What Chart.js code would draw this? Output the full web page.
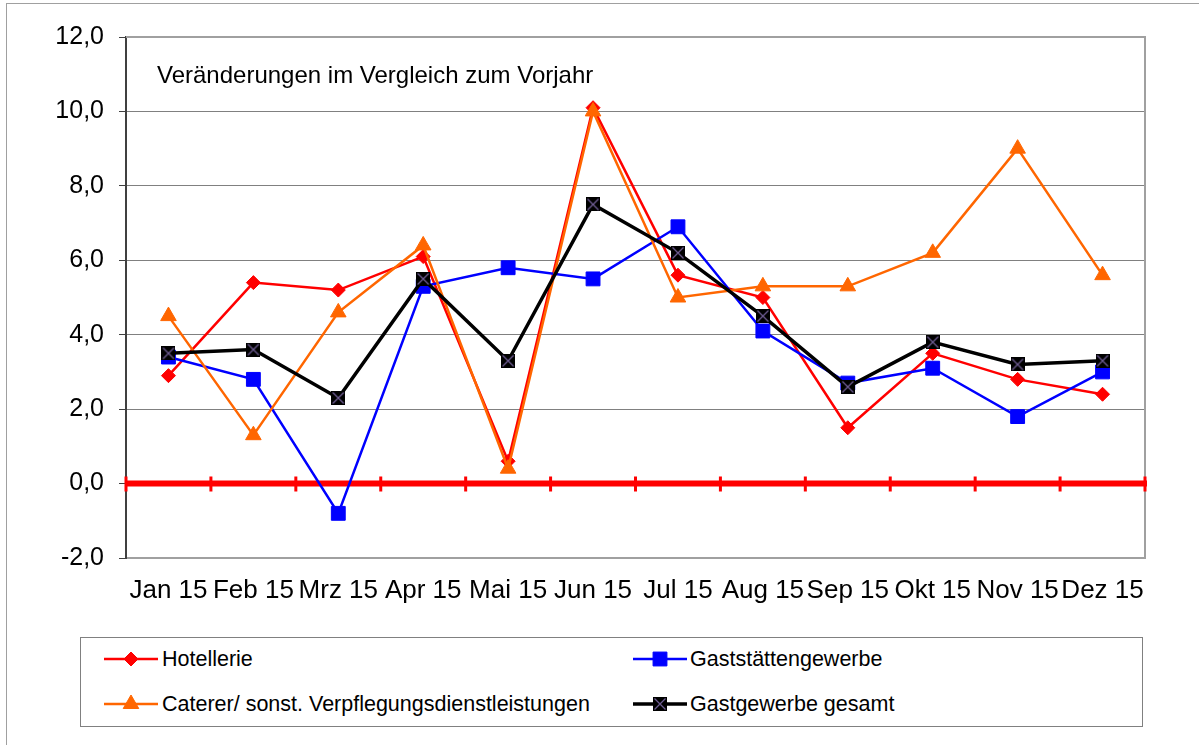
<!DOCTYPE html>
<html lang="de">
<head>
<meta charset="UTF-8">
<title>Gastgewerbe 2015</title>
<script src="https://cdn.jsdelivr.net/npm/chart.js@4.4.1/dist/chart.umd.min.js"></script>
<style>
  body { margin: 0; width: 1199px; height: 745px; overflow: hidden; background: #fff;
         font-family: "Liberation Sans", Arial, sans-serif; }
  #frame { position: absolute; left: 6px; top: 3px; width: 1220px; height: 770px; border: 1px solid #a0a0a0; }
  #wrap { position: absolute; left: 0; top: 0; width: 1199px; height: 745px; }
  #note { position: absolute; left: 157px; top: 62px; font-size: 24px; line-height: 26px; color: #000; white-space: nowrap; }
  #legend { position: absolute; left: 80px; top: 637px; width: 1061px; height: 88px; border: 1px solid #808080; background: #fff; }
  #legend canvas { position: absolute; }
  #legend span { position: absolute; font-size: 21.5px; line-height: 24px; color: #000; white-space: nowrap; }
</style>
</head>
<body>
<div id="frame"></div>
<div id="wrap"><canvas id="myChart" width="1199" height="745"></canvas></div>
<div id="note">Veränderungen im Vergleich zum Vorjahr</div>
<div id="legend"></div>
<script>
  // Werte (Veränderung zum Vorjahr in %)
  const months = ["Jan 15","Feb 15","Mrz 15","Apr 15","Mai 15","Jun 15","Jul 15","Aug 15","Sep 15","Okt 15","Nov 15","Dez 15"];
  const hotellerie   = [2.9, 5.4, 5.2, 6.1, 0.6, 10.1, 5.6, 5.0, 1.5, 3.5, 2.8, 2.4];
  const gaststaetten = [3.4, 2.8, -0.8, 5.3, 5.8, 5.5, 6.9, 4.1, 2.7, 3.1, 1.8, 3.0];
  const caterer      = [4.5, 1.3, 4.6, 6.4, 0.4, 10.0, 5.0, 5.3, 5.3, 6.2, 9.0, 5.6];
  const gesamt       = [3.5, 3.6, 2.3, 5.5, 3.3, 7.5, 6.2, 4.5, 2.6, 3.8, 3.2, 3.3];
  const yTicks = [-2, 0, 2, 4, 6, 8, 10, 12];

  const FONT = '"Liberation Sans", Arial, sans-serif';

  // schwarzes Quadrat mit Kreuz
  function crossBox(size) {
    const c = document.createElement('canvas');
    c.width = size; c.height = size;
    const g = c.getContext('2d');
    g.fillStyle = '#000';
    g.fillRect(0, 0, size, size);
    g.strokeStyle = '#6e5c92';
    g.lineWidth = 1.3;
    g.beginPath();
    g.moveTo(1.5, 1.5); g.lineTo(size - 1.5, size - 1.5);
    g.moveTo(size - 1.5, 1.5); g.lineTo(1.5, size - 1.5);
    g.stroke();
    return c;
  }
  const boxMarker = crossBox(14);

  function series(label, data, color, style, radius, width, order) {
    return {
      label: label, data: data, order: order,
      borderColor: color, borderWidth: width, tension: 0,
      pointStyle: style, pointRadius: radius, pointHoverRadius: radius,
      pointBackgroundColor: color, pointBorderColor: color, pointBorderWidth: 1
    };
  }

  const datasets = [
    series('Hotellerie', hotellerie, '#ff0000', 'rectRot', 7, 2.5, 4),
    series('Gaststättengewerbe', gaststaetten, '#0000ff', 'rect', 9.8, 2.5, 3),
    series('Caterer/ sonst. Verpflegungsdienstleistungen', caterer, '#ff6600', 'triangle', 9, 2.5, 2),
    series('Gastgewerbe gesamt', gesamt, '#000000', boxMarker, 7, 3.5, 1)
  ];

  // rote Nulllinie mit Teilstrichen + Rahmen der Zeichenfläche
  const zeroLine = {
    id: 'zeroLine',
    beforeDatasetsDraw(chart) {
      const {ctx, chartArea: a, scales: {x, y}} = chart;
      const y0 = y.getPixelForValue(0);
      const step = x.getPixelForValue(1) - x.getPixelForValue(0);
      ctx.save();
      ctx.strokeStyle = '#a0a0a0';
      ctx.lineWidth = 2;
      ctx.beginPath();
      ctx.moveTo(a.left, a.top); ctx.lineTo(a.right, a.top); ctx.lineTo(a.right, a.bottom);
      ctx.stroke();
      ctx.strokeStyle = '#ff0000';
      ctx.lineWidth = 6;
      ctx.beginPath(); ctx.moveTo(a.left, y0); ctx.lineTo(a.right + 2, y0); ctx.stroke();
      ctx.lineWidth = 3;
      ctx.beginPath();
      for (let i = 0; i <= months.length; i++) {
        const px = x.getPixelForValue(i) - step / 2;
        ctx.moveTo(px, y0 - 7); ctx.lineTo(px, y0 + 8);
      }
      ctx.stroke();
      ctx.restore();
    }
  };

  const ctx = document.getElementById('myChart').getContext('2d');
  const myChart = new Chart(ctx, {
    type: 'line',
    data: { labels: months, datasets: datasets },
    options: {
      responsive: false,
      animation: false,
      layout: { padding: { top: 37, right: 54, left: 0, bottom: 0 } },
      plugins: { legend: { display: false }, tooltip: { enabled: false } },
      scales: {
        x: {
          offset: true,
          grid: { display: false, drawTicks: false },
          border: { display: true, color: '#a0a0a0', width: 2 },
          ticks: { color: '#000', font: { family: FONT, size: 26 }, padding: 17, autoSkip: false, maxRotation: 0 },
          afterFit: s => { s.height = 187; }
        },
        y: {
          min: yTicks[0], max: yTicks[yTicks.length - 1],
          afterBuildTicks: s => { s.ticks = yTicks.map(v => ({ value: v })); },
          ticks: { color: '#000', font: { family: FONT, size: 25 }, padding: 15,
                   callback: v => v.toFixed(1).replace('.', ',') },
          grid: { color: '#808080', lineWidth: 1, tickLength: 7, tickColor: '#404040' },
          border: { color: '#404040', width: 2 },
          afterFit: s => { s.width = 126; }
        }
      }
    },
    plugins: [zeroLine]
  });

  // Legende
  const legendPos = [
    { line: 23, text: 81, row: 11 },
    { line: 552, text: 609, row: 11 },
    { line: 23, text: 81, row: 56 },
    { line: 552, text: 609, row: 56 }
  ];
  const legend = document.getElementById('legend');
  datasets.forEach((ds, i) => {
    const p = legendPos[i];
    const c = document.createElement('canvas');
    c.width = 54; c.height = 20;
    c.style.left = p.line + 'px'; c.style.top = p.row + 'px';
    const g = c.getContext('2d');
    g.strokeStyle = ds.borderColor; g.lineWidth = ds.borderWidth;
    g.beginPath(); g.moveTo(0, 10); g.lineTo(54, 10); g.stroke();
    g.fillStyle = ds.pointBackgroundColor; g.strokeStyle = ds.pointBorderColor;
    g.lineWidth = 1;
    Chart.helpers.drawPoint(g, { pointStyle: ds.pointStyle, radius: ds.pointRadius, rotation: 0, borderWidth: 1 }, 27, 10);
    legend.appendChild(c);
    const s = document.createElement('span');
    s.textContent = ds.label;
    s.style.left = p.text + 'px'; s.style.top = (p.row - 2.5) + 'px';
    legend.appendChild(s);
  });
</script>
</body>
</html>
